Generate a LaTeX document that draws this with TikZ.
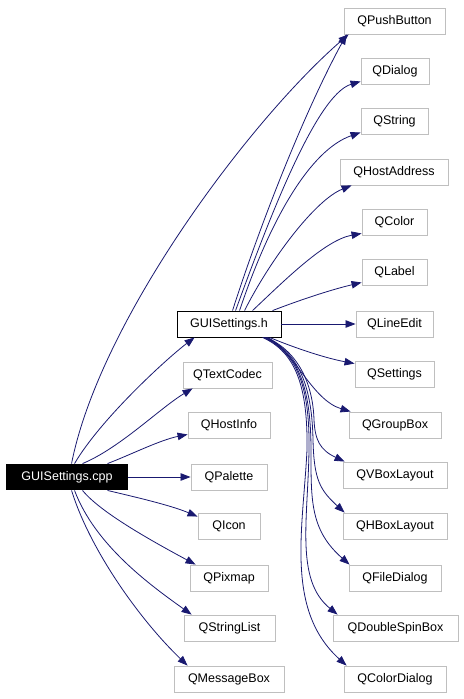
\documentclass[tikz,border=0pt]{standalone}
\usepackage{fontspec}
\setmainfont{Liberation Sans}
\usetikzlibrary{arrows.meta}
\definecolor{edgeblue}{RGB}{25,25,112}
\definecolor{boxgray}{RGB}{191,191,191}
\tikzset{
  lbl/.style={font=\fontsize{12.5bp}{14bp}\selectfont, inner sep=0pt, minimum height=26bp, line width=0.9bp},
  box/.style={lbl, draw=boxgray},
  hbox/.style={lbl, draw=black},
  cppbox/.style={lbl, fill=black, text=white},
  edge/.style={draw=edgeblue, line width=0.8bp, -{Triangle[length=10bp,width=7.5bp]}, fill=none},
}
\begin{document}
\begin{tikzpicture}[x=1bp,y=-1bp]
\useasboundingbox (0,0) rectangle (464,699);
% right column
\node[box, minimum width=101bp] (pb)  at (394.5,21)  {QPushButton};
\node[box, minimum width=68bp]  (dlg) at (395,71)    {QDialog};
\node[box, minimum width=67bp]  (str) at (394.5,121) {QString};
\node[box, minimum width=108bp] (ha)  at (394,172)   {QHostAddress};
\node[box, minimum width=65bp]  (col) at (394.5,222) {QColor};
\node[box, minimum width=65bp]  (lab) at (394.5,272) {QLabel};
\node[box, minimum width=77bp]  (le)  at (394.5,324) {QLineEdit};
\node[box, minimum width=79bp]  (set) at (394.5,374) {QSettings};
\node[box, minimum width=92bp]  (gb)  at (395,425)   {QGroupBox};
\node[box, minimum width=104bp] (vb)  at (395,475)   {QVBoxLayout};
\node[box, minimum width=104bp] (hb)  at (395,526)   {QHBoxLayout};
\node[box, minimum width=92bp]  (fd)  at (395,578)   {QFileDialog};
\node[box, minimum width=125bp] (dsb) at (395.5,628) {QDoubleSpinBox};
\node[box, minimum width=102bp] (cd)  at (395,679)   {QColorDialog};
% middle column
\node[hbox, minimum width=104bp] (h)  at (229,324)   {GUISettings.h};
\node[box, minimum width=89bp]  (tc)  at (227.5,375) {QTextCodec};
\node[box, minimum width=82bp]  (hi)  at (229,425)   {QHostInfo};
\node[box, minimum width=76bp]  (pal) at (229,477)   {QPalette};
\node[box, minimum width=62bp]  (ico) at (229,526)   {QIcon};
\node[box, minimum width=78bp]  (pix) at (229,578)   {QPixmap};
\node[box, minimum width=91bp]  (sl)  at (229.5,628) {QStringList};
\node[box, minimum width=110bp] (mb)  at (229,679)   {QMessageBox};
% left
\node[cppbox, minimum width=122bp] (cpp) at (67,477) {GUISettings.cpp};

% edges from GUISettings.cpp
\draw[edge] ([xshift=66bp]cpp.north west) .. controls (100,320) and (250,120) .. ([xshift=5bp]pb.south west);
\draw[edge] ([xshift=69bp]cpp.north west) .. controls (100,420) and (165,360) .. ([xshift=18bp]h.south west);
\draw[edge] ([xshift=77bp]cpp.north west) .. controls (120,448) and (160,408) .. ([xshift=10bp]tc.south west);
\draw[edge] ([xshift=102bp]cpp.north west) .. controls (130,455) and (160,440) .. ([yshift=4bp]hi.south west);
\draw[edge] (cpp.east) -- (pal.west);
\draw[edge] ([xshift=102bp]cpp.south west) .. controls (135,497) and (170,505) .. ([yshift=-4bp]ico.north west);
\draw[edge] ([xshift=77bp]cpp.south west) .. controls (100,512) and (150,540) .. ([xshift=6bp]pix.north west);
\draw[edge] ([xshift=69bp]cpp.south west) .. controls (95,545) and (150,585) .. ([xshift=8bp]sl.north west);
\draw[edge] ([xshift=66bp]cpp.south west) .. controls (90,550) and (140,620) .. ([xshift=14bp]mb.north west);

% edges from GUISettings.h
\draw[edge] ([xshift=56bp]h.north west) .. controls (255,240) and (300,120) .. ([xshift=3bp]pb.south west);
\draw[edge] ([xshift=59bp]h.north west) .. controls (265,230) and (315,95) .. ([yshift=3bp]dlg.south west);
\draw[edge] ([xshift=63bp]h.north west) .. controls (270,220) and (310,150) .. ([yshift=2bp]str.south west);
\draw[edge] ([xshift=68bp]h.north west) .. controls (270,260) and (315,200) .. ([xshift=12bp]ha.south west);
\draw[edge] ([xshift=76bp]h.north west) .. controls (285,280) and (325,240) .. ([yshift=2bp]col.south west);
\draw[edge] ([xshift=96bp]h.north west) .. controls (300,300) and (330,290) .. ([yshift=3bp]lab.south west);
\draw[edge] (h.east) -- (le.west);
\draw[edge] ([xshift=93bp]h.south west) .. controls (295,348) and (325,358) .. ([yshift=-3bp]set.north west);
\draw[edge] ([xshift=91bp]h.south west) .. controls (295,352) and (312,400) .. ([xshift=2bp]gb.north west);
\draw[edge] ([xshift=90bp]h.south west) .. controls (299,352) and (313,385) .. (314,420) .. controls (315,440) and (320,450) .. ([xshift=2bp]vb.north west);
\draw[edge] ([xshift=89bp]h.south west) .. controls (298,352) and (312,385) .. (313,440) .. controls (314,480) and (320,490) .. ([xshift=2bp]hb.north west);
\draw[edge] ([xshift=88bp]h.south west) .. controls (297,352) and (311,385) .. (311,450) .. controls (311,500) and (310,530) .. ([xshift=1bp]fd.north west);
\draw[edge] ([xshift=87bp]h.south west) .. controls (296,352) and (310,385) .. (309,450) .. controls (308,520) and (295,580) .. ([xshift=5bp]dsb.north west);
\draw[edge] ([xshift=86bp]h.south west) .. controls (295,352) and (308,385) .. (307,450) .. controls (303,530) and (285,610) .. ([xshift=3bp]cd.north west);
\end{tikzpicture}
\end{document}
